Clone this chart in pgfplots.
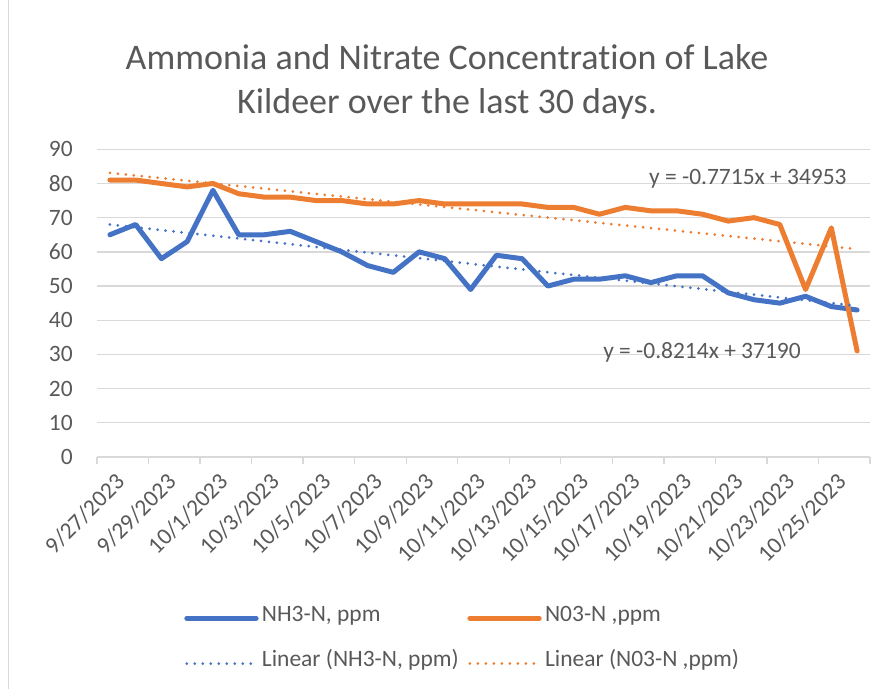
\documentclass[border=0pt]{standalone}
\usepackage{fontspec}
\setmainfont[Ligatures={NoCommon,NoRequired,NoContextual}]{Carlito}
\usepackage{pgfplots}
\pgfplotsset{compat=1.18}
\definecolor{cblue}{HTML}{4472C4}
\definecolor{corange}{HTML}{ED7D31}
\definecolor{cgrid}{HTML}{D9D9D9}
\definecolor{ctext}{HTML}{595959}
\newcommand{\tfont}{\fontsize{17.6}{21}\selectfont}
\begin{document}
\begin{tikzpicture}
\useasboundingbox (0,0) rectangle (670.5pt,-516.75pt);
\draw[cgrid, line width=0.75pt] (6pt,0) -- (6pt,-516.75pt);
\node[font=\fontsize{27}{33}\selectfont, text=ctext, align=center] at (335.25pt,-61.5pt)
  {Ammonia and Nitrate Concentration of Lake\\Kildeer over the last 30 days.};
\begin{axis}[
  at={(72.75pt,-342.75pt)}, anchor=south west,
  width=579.75pt, height=230.8pt, scale only axis,
  xmin=-0.5, xmax=29.5, ymin=0, ymax=90,
  ytick={0,10,...,90},
  xtick={-0.5,1.5,3.5,5.5,7.5,9.5,11.5,13.5,15.5,17.5,19.5,21.5,23.5,25.5,27.5,29.5},
  xticklabels={9/27/2023,9/29/2023,10/1/2023,10/3/2023,10/5/2023,10/7/2023,10/9/2023,10/11/2023,10/13/2023,10/15/2023,10/17/2023,10/19/2023,10/21/2023,10/23/2023,10/25/2023,{}},
  /pgf/number format/assume math mode=true,
  axis lines=left, axis line style={-},
  y axis line style={draw=none},
  x axis line style={draw=cgrid, line width=1pt},
  ymajorgrids, grid style={cgrid, line width=1pt},
  ytick style={draw=none},
  xtick style={draw=cgrid, line width=1pt},
  tick align=outside, major tick length=5pt,
  yticklabel style={font=\tfont, text=ctext, inner sep=0pt, anchor=east, xshift=-13pt},
  xticklabel style={font=\tfont, text=ctext, inner sep=0pt, xshift=13pt, yshift=-6pt, rotate=45, anchor=north east},
  legend columns=2,
  legend cell align=left,
  legend style={at={(0.1074,-0.495)}, anchor=north west, draw=none, fill=none,
    font=\tfont, text=ctext,
    nodes={inner ysep=0pt, inner xsep=2.5pt, text height=0.7em, text depth=0.2em},
    row sep=25pt,
    /tikz/every even column/.append style={column sep=4pt}},
  legend image code/.code={\draw[#1] (0pt,0pt) -- (52pt,0pt);},
]
\addplot[cblue, line width=3.75pt, line join=round, line cap=round] coordinates {
(0,65) (1,68) (2,58) (3,63) (4,78) (5,65) (6,65) (7,66) (8,63) (9,60)
(10,56) (11,54) (12,60) (13,58) (14,49) (15,59) (16,58) (17,50) (18,52) (19,52)
(20,53) (21,51) (22,53) (23,53) (24,48) (25,46) (26,45) (27,47) (28,44) (29,43)};
\addlegendentry{NH3-N, ppm}
\addplot[corange, line width=3.75pt, line join=round, line cap=round] coordinates {
(0,81) (1,81) (2,80) (3,79) (4,80) (5,77) (6,76) (7,76) (8,75) (9,75)
(10,74) (11,74) (12,75) (13,74) (14,74) (15,74) (16,74) (17,73) (18,73) (19,71)
(20,73) (21,72) (22,72) (23,71) (24,69) (25,70) (26,68) (27,49) (28,67) (29,31)};
\addlegendentry{N03-N ,ppm}
\addplot[cblue, line width=2.25pt, line cap=round, dash pattern=on 0pt off 6pt] coordinates {(0,68.0) (29,44.2)};
\addlegendentry{Linear (NH3-N, ppm)}
\addplot[corange, line width=2.25pt, line cap=round, dash pattern=on 0pt off 6pt] coordinates {(0,83.1) (29,60.8)};
\addlegendentry{Linear (N03-N ,ppm)}
\node[font=\tfont, text=ctext] at (axis cs:24.76,81.3) {y = -0.7715x + 34953};
\node[font=\tfont, text=ctext] at (axis cs:22.98,30.7) {y = -0.8214x + 37190};
\end{axis}
\end{tikzpicture}
\end{document}
